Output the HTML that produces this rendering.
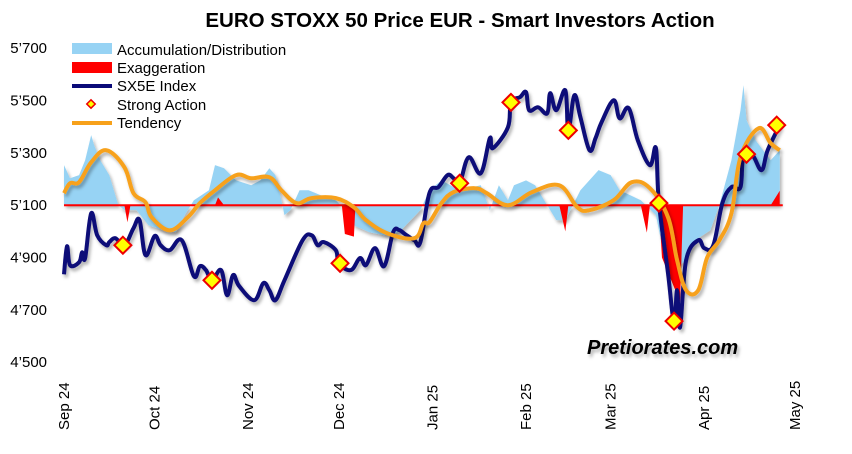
<!DOCTYPE html>
<html><head><meta charset="utf-8"><style>
body{margin:0;background:#fff;width:852px;height:454px;overflow:hidden;font-family:"Liberation Sans",sans-serif}
svg{display:block}
text{font-family:"Liberation Sans",sans-serif;fill:#000}
</style></head><body>
<svg id="chart" width="852" height="454">
<defs><filter id="sh" x="-5%" y="-5%" width="110%" height="115%"><feDropShadow dx="2" dy="3" stdDeviation="1.5" flood-color="#000" flood-opacity="0.3"/></filter></defs>
<text x="460" y="27" text-anchor="middle" font-size="20.5" font-weight="bold">EURO STOXX 50 Price EUR - Smart Investors Action</text>
<g id="yaxis"></g>
<g id="xaxis"></g>
<g id="plot"></g>
<g font-size="15">
<rect x="72" y="43" width="40" height="11" fill="#97d3f4"/>
<text x="117" y="55">Accumulation/Distribution</text>
<rect x="72" y="62" width="40" height="11" fill="#f00"/>
<text x="117" y="73">Exaggeration</text>
<line x1="72" y1="86" x2="112" y2="86" stroke="#0a0a78" stroke-width="4"/>
<text x="117" y="91">SX5E Index</text>
<rect x="88" y="101" width="6" height="6" fill="#ff0" stroke="#e00" stroke-width="1.5" transform="rotate(45 91 104)"/>
<text x="117" y="110">Strong Action</text>
<line x1="72" y1="123" x2="112" y2="123" stroke="#f7a11a" stroke-width="4"/>
<text x="117" y="128">Tendency</text>
</g>
<text x="587" y="354" font-size="20" font-weight="bold" font-style="italic" filter="url(#sh)">Pretiorates.com</text>
</svg>
<script>
const yTicks=[4500,4700,4900,5100,5300,5500,5700];
const yTickLabels=["4’500","4’700","4’900","5’100","5’300","5’500","5’700"];
const monthLabels=["Sep 24","Oct 24","Nov 24","Dec 24","Jan 25","Feb 25","Mar 25","Apr 25","May 25"];
const monthDays=[0,30,61,91,122,153,181,212,242];
const baseline=5100;
const idxDays=[0,1,2,5,6,7,9,11,14,15,17,20,23,25,27,30,32,35,39,43,45,47,49,52,54,56,58,63,66,68,70,73,79,82,84,86,90,91,95,98,100,103,106,109,111,113,116,118,121,124,127,129,131,134,138,141,142,147,148,151,153,154,157,160,161,163,166,167,169,171,174,176,178,182,184,187,190,194,196,197,200,202,203,204,206,210,212,215,218,221,224,225,228,231,233,237];
const idxVals=[4836,4943,4871,4882,4920,4898,5069,4985,4947,4959,4974,4947,5012,5043,4909,4982,4947,4928,4966,4829,4867,4852,4813,4852,4756,4833,4791,4737,4802,4775,4737,4813,4966,4985,4947,4959,4928,4878,4852,4898,4871,4936,4867,4997,5005,4989,4966,4959,5146,5169,5215,5203,5184,5283,5222,5356,5318,5398,5493,5513,5532,5463,5474,5451,5528,5463,5539,5386,5520,5436,5310,5356,5417,5501,5432,5471,5348,5253,5318,5108,4840,4649,4775,4634,4890,4966,4936,4947,5108,5169,5169,5299,5291,5234,5310,5406];
const tenDays=[0,2,5,9,14,20,23,27,29,35,41,45,50,57,62,68,72,77,82,90,96,100,107,116,119,121,125,129,136,140,147,155,164,170,174,182,188,194,200,203,206,210,213,217,221,224,230,234,237];
const tenVals=[5146,5184,5188,5264,5310,5245,5146,5111,5054,5004,5054,5108,5157,5215,5203,5207,5157,5108,5127,5127,5092,5043,4993,4974,5031,5035,5108,5150,5165,5146,5100,5150,5176,5092,5081,5119,5188,5165,5054,4890,4775,4775,4901,4966,5069,5283,5394,5337,5310];
const accDays=[0,2,5,7,9,10,12,15,18,20,24,28,33,37,40,43,48,50,53,57,62,65,68,70,72,73,75,78,81,85,90,93,96,101,106,111,118,121,125,131,138,141,144,147,149,153,156,159,163,166,171,177,181,184,191,196,199,202,206,209,214,217,221,224,225,226,229,234,237];
const accVals=[5253,5203,5215,5272,5368,5329,5272,5215,5100,5081,5081,5023,5004,4997,5062,5119,5157,5253,5241,5195,5176,5195,5241,5215,5119,5062,5081,5157,5157,5138,5119,5081,5023,4997,4985,4997,5081,5157,5195,5157,5176,5081,5176,5119,5176,5195,5176,5119,5043,5043,5157,5234,5215,5157,5119,5062,4890,4852,4890,4966,5004,5100,5272,5463,5559,5425,5348,5272,5310];
const exDays=[0,20,21,22,50,51,53,92,93,96,96.5,164,166,167,191,193,194,197,198,204,205,234,237,237];
const exVals=[5100,5100,5035,5100,5100,5130,5100,5100,4990,4980,5100,5100,5000,5100,5100,4995,5100,5100,4900,4730,5100,5100,5155,5100];
const actDays=[19.5,49,91.4,131,148,167,197,202,226,236];
const actVals=[4947,4813,4878,5184,5493,5386,5108,4657,5295,5406];

const NS="http://www.w3.org/2000/svg";
const X=d=>64+d*3.02;
const Y=v=>205.2-(v-5100)*0.2617;
function mk(tag,attrs,parent){const e=document.createElementNS(NS,tag);for(const k in attrs)e.setAttribute(k,attrs[k]);parent.appendChild(e);return e;}
const yax=document.getElementById('yaxis'),xax=document.getElementById('xaxis'),plot=document.getElementById('plot');
yTicks.forEach((t,i)=>{const e=mk('text',{x:47,y:Y(t)+5,'text-anchor':'end','font-size':15},yax);e.textContent=yTickLabels[i];

});
monthDays.forEach((d,i)=>{const x=X(d)+5;const e=mk('text',{x:x,y:430,'font-size':15,transform:`rotate(-90 ${x} 430)`},xax);e.textContent=monthLabels[i];

});
function areaPath(days,vals){let p=`M${X(days[0])},${Y(baseline)}`;days.forEach((d,i)=>p+=`L${X(d)},${Y(vals[i])}`);p+=`L${X(days[days.length-1])},${Y(baseline)}Z`;return p;}
function linePath(days,vals){return days.map((d,i)=>(i?'L':'M')+X(d)+','+Y(vals[i])).join('');}
function smoothPath(days,vals){const P=days.map((d,i)=>[X(d),Y(vals[i])]);let p=`M${P[0][0]},${P[0][1]}`;
for(let i=0;i<P.length-1;i++){const p0=P[i-1]||P[i],p1=P[i],p2=P[i+1],p3=P[i+2]||p2;const t=0.18;
p+=`C${p1[0]+(p2[0]-p0[0])*t},${p1[1]+(p2[1]-p0[1])*t} ${p2[0]-(p3[0]-p1[0])*t},${p2[1]-(p3[1]-p1[1])*t} ${p2[0]},${p2[1]}`;}return p;}
const acc=mk('path',{d:areaPath(accDays,accVals),fill:'#97d3f4',filter:'url(#sh)'},plot);


const ex=mk('path',{d:linePath(exDays,exVals)+'Z',fill:'#f00'},plot);


const bl=mk('line',{x1:X(0),x2:X(238),y1:Y(baseline),y2:Y(baseline),stroke:'#f00','stroke-width':2},plot);


const il=mk('path',{d:smoothPath(idxDays,idxVals),fill:'none',stroke:'#0a0a78','stroke-width':4,'stroke-linejoin':'round',filter:'url(#sh)'},plot);


const tl=mk('path',{d:smoothPath(tenDays,tenVals),fill:'none',stroke:'#f7a11a','stroke-width':4,'stroke-linejoin':'round',filter:'url(#sh)'},plot);


actDays.forEach((d,i)=>{const x=X(d),y=Y(actVals[i]);const r=mk('rect',{x:x-6,y:y-6,width:12,height:12,fill:'#ffff00',stroke:'#e00','stroke-width':2,transform:`rotate(45 ${x} ${y})`},plot);

});
</script>
</body></html>
